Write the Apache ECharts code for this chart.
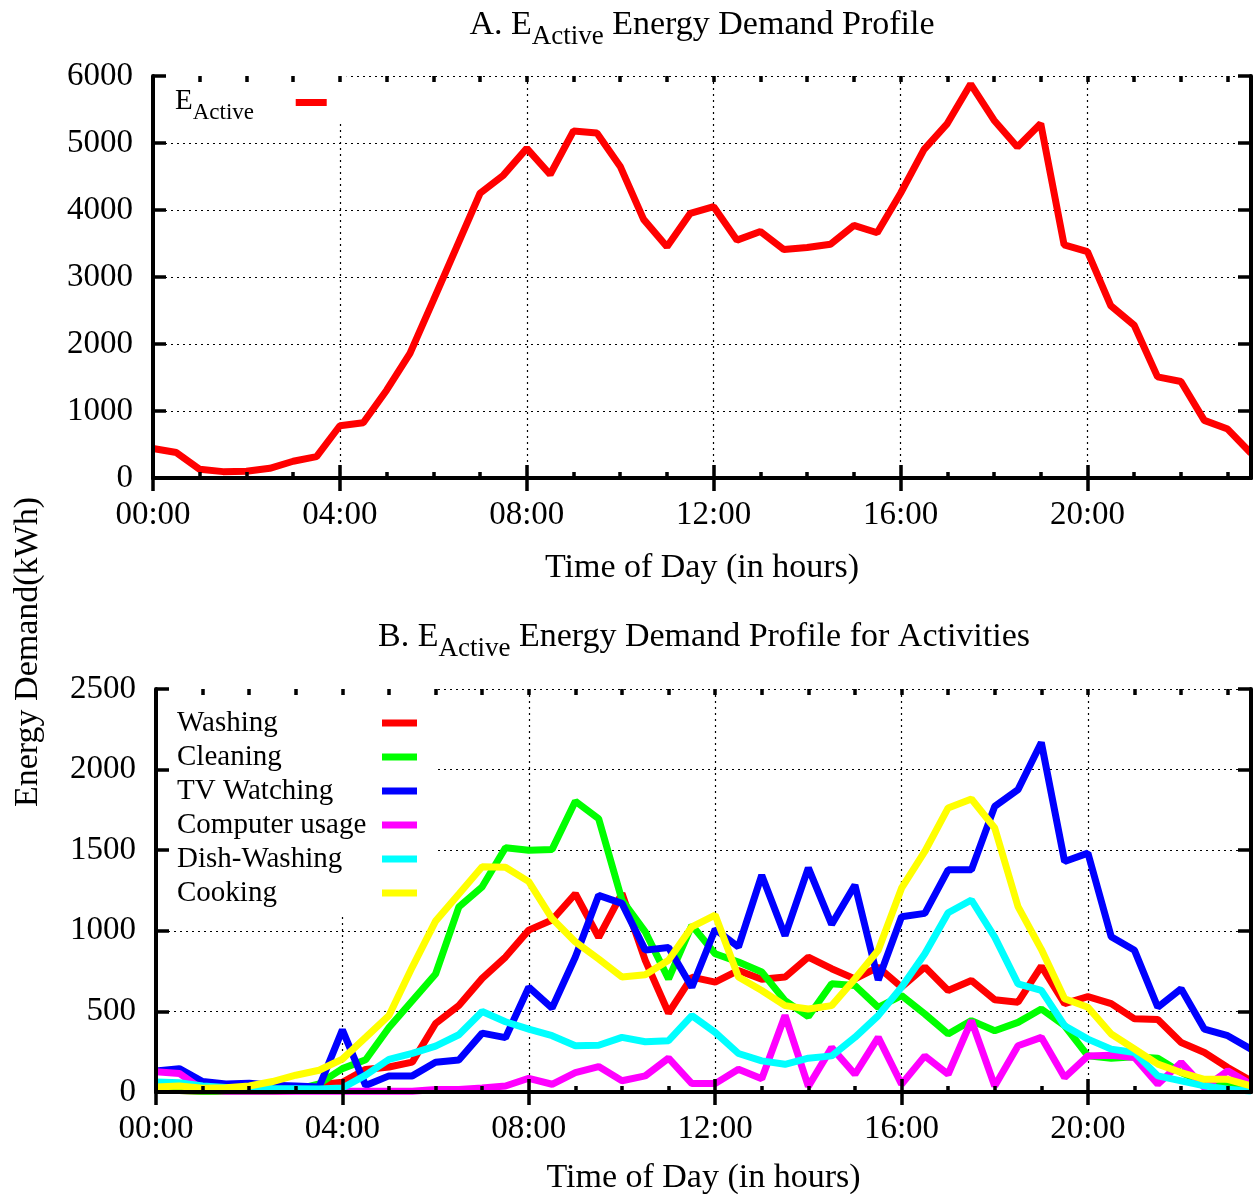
<!DOCTYPE html>
<html>
<head>
<meta charset="utf-8">
<title>E_Active Energy Demand Profile</title>
<script src="https://cdn.jsdelivr.net/npm/echarts@6/dist/echarts.min.js"></script>
<style>
  html, body { margin: 0; padding: 0; background: #fff; }
  #chart { width: 1253px; height: 1194px; }
</style>
</head>
<body>
<div id="chart"></div>
<script>
  const FONT = 'Liberation Serif';

  // half-hour slots 00:00 ... 23:30
  const times = Array.from({ length: 48 }, (_, i) =>
    String(Math.floor(i / 2)).padStart(2, '0') + (i % 2 ? ':30' : ':00'));

  // panel A
  const eActive = [
    440, 380, 130, 95, 100, 145, 250, 320, 780, 825, 1310, 1860,
    2650, 3450, 4250, 4520, 4920, 4530, 5180, 5150, 4650, 3860, 3450, 3950,
    4050, 3550, 3680, 3410, 3440, 3490, 3770, 3660, 4250, 4900, 5290, 5880,
    5340, 4940, 5290, 3480, 3380, 2570, 2280, 1510, 1440, 860, 730, 370,
  ];

  // panel B
  const activities = ['Washing', 'Cleaning', 'TV Watching', 'Computer usage', 'Dish-Washing', 'Cooking'];
  const activityColors = ['#ff0000', '#00ff00', '#0000ff', '#ff00ff', '#00ffff', '#ffff00'];

  const washing = [
    10, 10, 5, 5, 5, 5, 10, 45, 60, 140, 155, 185,
    425, 536, 705, 837, 1004, 1067, 1230, 960, 1232, 817, 490, 713,
    682, 754, 700, 713, 837, 765, 702, 775, 650, 775, 630, 692,
    572, 557, 780, 548, 592, 548, 454, 450, 307, 245, 152, 69,
  ];
  const cleaning = [
    10, 10, 5, 5, 5, 5, 15, 50, 145, 200, 400, 566,
    732, 1148, 1273, 1515, 1500, 1505, 1804, 1695, 1191, 993, 702, 1034,
    858, 806, 744, 567, 468, 671, 661, 525, 598, 484, 360, 443,
    380, 432, 515, 411, 224, 210, 218, 210, 121, 58, 38, 17,
  ];
  const tvWatching = [
    131, 145, 65, 50, 54, 42, 37, 31, 385, 40, 100, 100,
    184, 198, 365, 337, 650, 521, 837, 1220, 1170, 880, 896, 650,
    1010, 900, 1345, 970, 1390, 1040, 1284, 695, 1087, 1108, 1378, 1378,
    1772, 1876, 2168, 1430, 1482, 963, 879, 526, 640, 390, 349, 266,
  ];
  const computerUsage = [
    125, 115, 15, 5, 5, 5, 5, 5, 5, 5, 5, 5,
    15, 15, 25, 37, 85, 48, 120, 158, 70, 100, 210, 52,
    52, 141, 82, 475, 35, 275, 110, 339, 48, 224, 110, 443,
    37, 287, 339, 90, 224, 228, 214, 48, 183, 27, 131, 48,
  ];
  const dishWashing = [
    62, 58, 38, 28, 25, 22, 20, 18, 25, 105, 202, 240,
    285, 355, 499, 436, 390, 349, 287, 290, 339, 312, 318, 474,
    370, 239, 193, 172, 210, 224, 339, 474, 650, 858, 1112, 1191,
    961, 671, 630, 411, 328, 266, 245, 100, 69, 38, 17, 6,
  ];
  const cooking = [
    31, 37, 23, 27, 37, 65, 104, 135, 204, 339, 475, 775,
    1060, 1228, 1397, 1394, 1305, 1076, 931, 825, 713, 728, 817, 1025,
    1098, 713, 630, 536, 515, 536, 702, 879, 1264, 1492, 1762, 1818,
    1638, 1150, 885, 578, 526, 360, 267, 173, 121, 79, 79, 38,
  ];
  const activityData = [washing, cleaning, tvWatching, computerUsage, dishWashing, cooking];

  const black = { color: '#000', width: 4 };
  const tickStyle = { color: '#000', width: 3.5 };
  const gridDots = { color: '#000', width: 1.2, type: [2, 4] };
  const labelFont = { color: '#000', fontFamily: FONT, fontSize: 33 };

  const isMajor = (i) => i % 8 === 0;
  const isHour = (i) => i % 2 === 0;

  function xAxes(grid, nameGap) {
    const base = {
      type: 'category', gridIndex: grid, data: times, boundaryGap: false, z: 6,
      axisLine: { show: false }, axisTick: { show: false }, axisLabel: { show: false }, splitLine: { show: false },
    };
    const major = { show: true, inside: true, length: 13, interval: isMajor, lineStyle: tickStyle };
    const minor = { show: true, inside: true, length: 6, interval: isHour, lineStyle: tickStyle };
    return [
      {
        ...base, position: 'bottom',
        axisLine: { show: true, lineStyle: black },
        axisTick: major,
        axisLabel: { show: true, interval: isMajor, margin: 21, ...labelFont },
        name: 'Time of Day (in hours)', nameLocation: 'middle', nameGap,
        nameTextStyle: { color: '#000', fontFamily: FONT, fontSize: 34 },
      },
      { ...base, position: 'bottom', axisTick: minor },
      { ...base, position: 'top', axisLine: { show: true, lineStyle: black }, axisTick: major },
      { ...base, position: 'top', axisTick: minor },
      { ...base, position: 'bottom', z: 0, splitLine: { show: true, interval: (i) => isMajor(i) && i > 0, lineStyle: gridDots } },
    ];
  }

  function yAxes(grid, max, step) {
    const base = {
      type: 'value', gridIndex: grid, min: 0, max, interval: step, z: 6,
      axisLine: { show: false }, axisTick: { show: false }, axisLabel: { show: false }, splitLine: { show: false },
    };
    const ticks = { show: true, inside: true, length: 13, lineStyle: tickStyle };
    return [
      {
        ...base, position: 'left', axisLine: { show: true, lineStyle: black }, axisTick: ticks,
        axisLabel: { show: true, margin: 20, formatter: (v) => String(v), ...labelFont },
      },
      { ...base, position: 'right', axisLine: { show: true, lineStyle: black }, axisTick: ticks },
      { ...base, position: 'left', z: 0, splitLine: { show: true, lineStyle: gridDots } },
    ];
  }

  const sub = (size, drop, width) => ({
    fontFamily: FONT, fontSize: size, lineHeight: size, padding: [drop, 0, 0, 0], verticalAlign: 'top',
    color: '#000', fill: '#000', ...(width ? { width, align: 'left' } : {}),
  });
  const main = (size, alignLeft) => ({
    fontFamily: FONT, fontSize: size, lineHeight: size + 2, verticalAlign: 'top', color: '#000', fill: '#000',
    ...(alignLeft ? { align: 'left' } : {}),
  });

  const chart = echarts.init(document.getElementById('chart'), null, { renderer: 'canvas' });

  const option = {
    animation: false,
    backgroundColor: '#fff',
    grid: [
      { left: 153, right: 2, top: 76, bottom: 716, outerBoundsMode: 'none' },
      { left: 156, right: 2, top: 689, bottom: 102, outerBoundsMode: 'none' },
    ],
    xAxis: [...xAxes(0, 73), ...xAxes(1, 69)],
    yAxis: [...yAxes(0, 6000, 1000), ...yAxes(1, 2500, 500)],
    legend: [
      {
        data: ['EActive'], orient: 'vertical', left: 153, top: 76, padding: [11, 20, 0, 22],
        itemWidth: 31, itemHeight: 7, icon: 'rect', align: 'right', selectedMode: false,
        backgroundColor: '#fff', z: 4,
        formatter: () => '{e|E}{s|Active}',
        textStyle: { color: '#000', rich: { e: main(29, true), s: sub(23, 14, 98) } },
      },
      {
        data: activities, orient: 'vertical', left: 156, top: 689, padding: [17, 20, 4, 21],
        itemGap: 0, itemWidth: 35, itemHeight: 7, icon: 'rect', align: 'right', selectedMode: false,
        backgroundColor: '#fff', z: 4,
        formatter: (n) => `{n|${n}}`,
        textStyle: {
          color: '#000', fontFamily: FONT, fontSize: 29, lineHeight: 34,
          rich: { n: { fontFamily: FONT, fontSize: 29, lineHeight: 34, height: 34, width: 200, align: 'left', color: '#000' } },
        },
      },
    ],
    graphic: [
      {
        type: 'text', x: 702, y: 26, z: 10,
        style: {
          text: '{t|A. E}{s|Active}{t| Energy Demand Profile}', align: 'center', verticalAlign: 'middle',
          rich: { t: main(34), s: sub(27, 15) },
        },
      },
      {
        type: 'text', x: 704, y: 638, z: 10,
        style: {
          text: '{t|B. E}{s|Active}{t| Energy Demand Profile for Activities}', align: 'center', verticalAlign: 'middle',
          rich: { t: main(34), s: sub(27, 15) },
        },
      },
      {
        type: 'text', x: 28, y: 652, rotation: Math.PI / 2, z: 10,
        style: { text: 'Energy Demand(kWh)', fontFamily: FONT, fontSize: 34, fill: '#000', align: 'center', verticalAlign: 'middle' },
      },
    ],
    series: [
      {
        name: 'EActive', type: 'line', xAxisIndex: 0, yAxisIndex: 0, data: eActive, z: 5,
        showSymbol: false, color: '#ff0000', lineStyle: { width: 7, color: '#ff0000' }, emphasis: { disabled: true },
      },
      ...activities.map((name, k) => ({
        name, type: 'line', xAxisIndex: 5, yAxisIndex: 3, data: activityData[k], z: 5,
        showSymbol: false, color: activityColors[k], lineStyle: { width: 7, color: activityColors[k] }, emphasis: { disabled: true },
      })),
    ],
  };

  chart.setOption(option);
</script>
</body>
</html>
